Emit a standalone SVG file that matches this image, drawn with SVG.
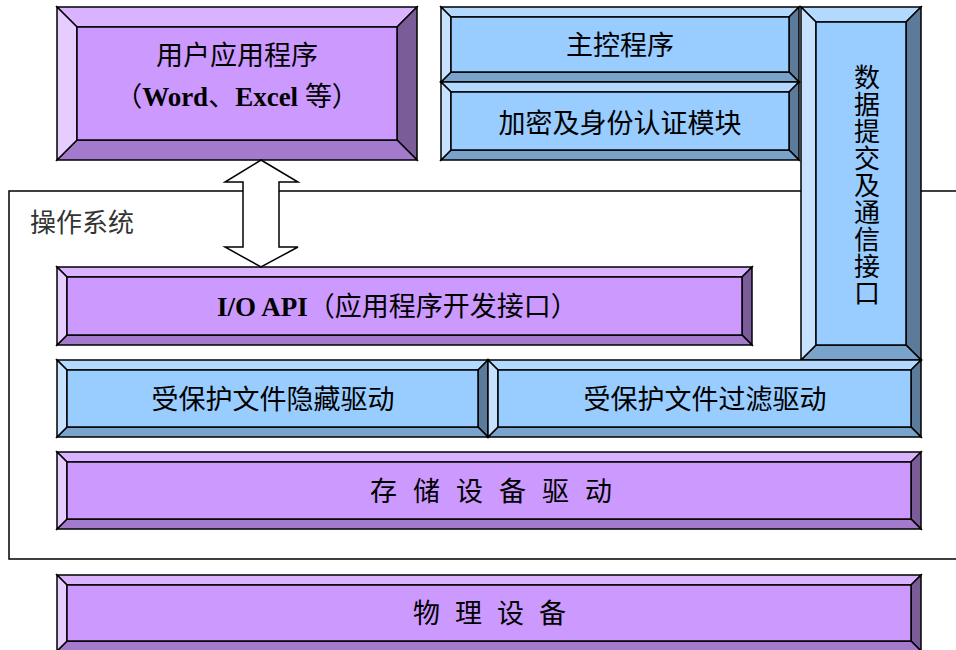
<svg xmlns="http://www.w3.org/2000/svg" width="956" height="650" viewBox="0 0 956 650">
<style>
.b{stroke:#000;stroke-width:1.5;stroke-linejoin:miter}
.pc{fill:#CC99FF}.pt{fill:#D9B3FF}.pl{fill:#E6CCFF}.pr{fill:#7A5C99}.pb{fill:#A37ACC}
.bc{fill:#99CCFF}.bt{fill:#B3D9FF}.bl{fill:#C6E2FF}.br{fill:#5C7A99}.bb{fill:#7AA3CC}
.cn{font-family:"Noto Sans CJK SC","Noto Sans",sans-serif;font-size:27px;fill:#000}
.vt{font-family:"Noto Sans CJK SC","Noto Sans",sans-serif;font-size:26px;fill:#000;writing-mode:vertical-rl;letter-spacing:1px}
.lt{font-family:"Liberation Serif",serif;font-weight:bold}
</style>
<rect id="os-frame" x="9" y="191" width="960" height="368" fill="none" stroke="#000" stroke-width="1.5"/>
<text x="30" y="232" class="cn" style="font-size:26px;fill:#333">操作系统</text>

<g id="user-app">
<polygon class="b pt" points="57,7 417,7 397,27 77,27"/>
<polygon class="b pr" points="417,7 417,160 397,140 397,27"/>
<polygon class="b pb" points="57,160 417,160 397,140 77,140"/>
<polygon class="b pl" points="57,7 77,27 77,140 57,160"/>
<rect class="b pc" x="77" y="27" width="320" height="113"/>
<text x="237" y="65" class="cn" text-anchor="middle">用户应用程序</text>
<text x="237" y="106" class="cn" text-anchor="middle">（<tspan class="lt">Word</tspan>、<tspan class="lt">Excel </tspan>等）</text>
</g>

<g id="main-ctrl">
<polygon class="b bt" points="441,7 799,7 789,17 451,17"/>
<polygon class="b br" points="799,7 799,82 789,72 789,17"/>
<polygon class="b bb" points="441,82 799,82 789,72 451,72"/>
<polygon class="b bl" points="441,7 451,17 451,72 441,82"/>
<rect class="b bc" x="451" y="17" width="338" height="55"/>
<text x="620" y="55" class="cn" text-anchor="middle">主控程序</text>
</g>

<g id="encrypt">
<polygon class="b bt" points="441,82 799,82 789,92 451,92"/>
<polygon class="b br" points="799,82 799,160 789,150 789,92"/>
<polygon class="b bb" points="441,160 799,160 789,150 451,150"/>
<polygon class="b bl" points="441,82 451,92 451,150 441,160"/>
<rect class="b bc" x="451" y="92" width="338" height="58"/>
<text x="620" y="133" class="cn" text-anchor="middle">加密及身份认证模块</text>
</g>

<g id="data-iface">
<polygon class="b bt" points="801,7 921,7 906,22 816,22"/>
<polygon class="b br" points="921,7 921,360 906,345 906,22"/>
<polygon class="b bb" points="801,360 921,360 906,345 816,345"/>
<polygon class="b bl" points="801,7 816,22 816,345 801,360"/>
<rect class="b bc" x="816" y="22" width="90" height="323"/>
<text x="867" y="64" class="vt">数据提交及通信接口</text>
</g>

<g id="io-api">
<polygon class="b pt" points="57,267 752,267 742,277 67,277"/>
<polygon class="b pr" points="752,267 752,345 742,335 742,277"/>
<polygon class="b pb" points="57,345 752,345 742,335 67,335"/>
<polygon class="b pl" points="57,267 67,277 67,335 57,345"/>
<rect class="b pc" x="67" y="277" width="675" height="58"/>
<text x="217" y="316" class="cn"><tspan class="lt">I/O API</tspan>（应用程序开发接口）</text>
</g>

<g id="hide-drv">
<polygon class="b bt" points="57,360 488,360 478,370 67,370"/>
<polygon class="b br" points="488,360 488,437 478,427 478,370"/>
<polygon class="b bb" points="57,437 488,437 478,427 67,427"/>
<polygon class="b bl" points="57,360 67,370 67,427 57,437"/>
<rect class="b bc" x="67" y="370" width="411" height="57"/>
<text x="273" y="409" class="cn" text-anchor="middle">受保护文件隐藏驱动</text>
</g>

<g id="filter-drv">
<polygon class="b bt" points="488,360 921,360 911,370 498,370"/>
<polygon class="b br" points="921,360 921,437 911,427 911,370"/>
<polygon class="b bb" points="488,437 921,437 911,427 498,427"/>
<polygon class="b bl" points="488,360 498,370 498,427 488,437"/>
<rect class="b bc" x="498" y="370" width="413" height="57"/>
<text x="705" y="409" class="cn" text-anchor="middle">受保护文件过滤驱动</text>
</g>

<g id="storage-drv">
<polygon class="b pt" points="57,452 921,452 911,462 67,462"/>
<polygon class="b pr" points="921,452 921,529 911,519 911,462"/>
<polygon class="b pb" points="57,529 921,529 911,519 67,519"/>
<polygon class="b pl" points="57,452 67,462 67,519 57,529"/>
<rect class="b pc" x="67" y="462" width="844" height="57"/>
<text y="501" class="cn"><tspan x="370">存</tspan><tspan x="413">储</tspan><tspan x="456">设</tspan><tspan x="499">备</tspan><tspan x="542">驱</tspan><tspan x="585">动</tspan></text>
</g>

<g id="phys-dev">
<polygon class="b pt" points="57,575 921,575 911,585 67,585"/>
<polygon class="b pr" points="921,575 921,651 911,641 911,585"/>
<polygon class="b pb" points="57,651 921,651 911,641 67,641"/>
<polygon class="b pl" points="57,575 67,585 67,641 57,651"/>
<rect class="b pc" x="67" y="585" width="844" height="56"/>
<text y="623" class="cn"><tspan x="413">物</tspan><tspan x="455">理</tspan><tspan x="497">设</tspan><tspan x="539">备</tspan></text>
</g>

<g id="connectors">
<polygon points="261,160 298,182 279,182 279,247 298,247 261,267 225,247 243,247 243,182 225,182" fill="#fff" stroke="#000" stroke-width="1.5"/>
</g>
</svg>
